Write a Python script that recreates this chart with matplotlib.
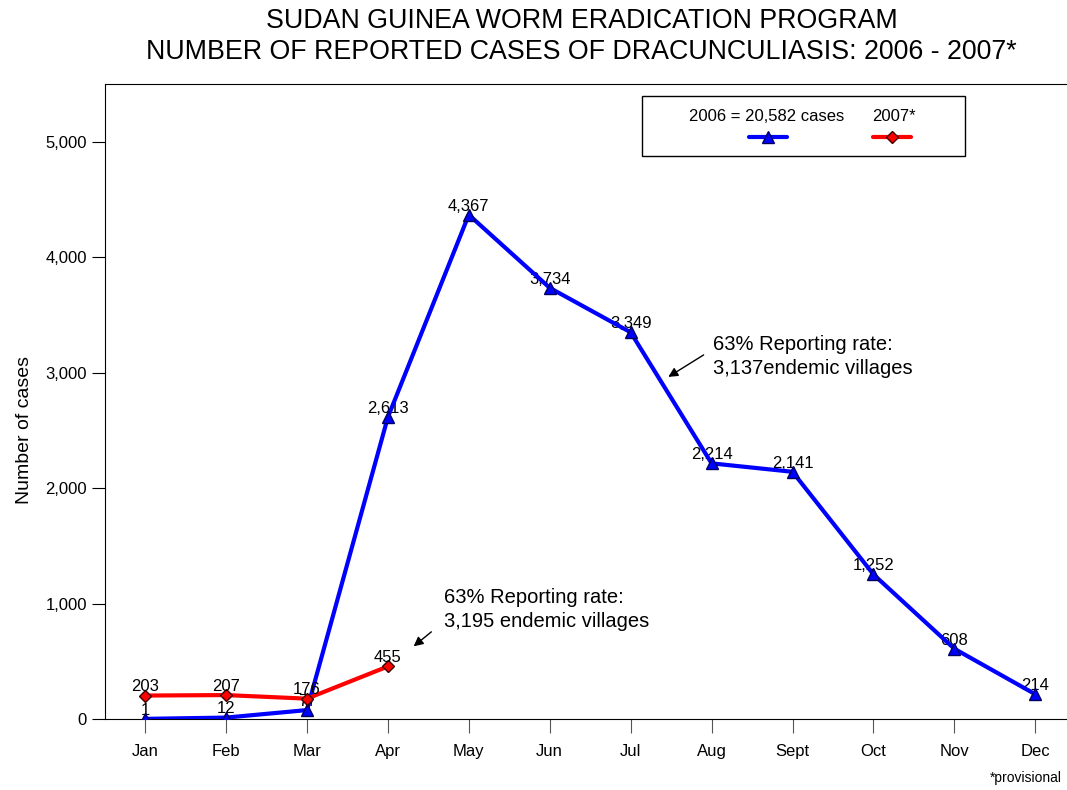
import numpy as np
import matplotlib.pyplot as plt
from matplotlib.ticker import FuncFormatter
from matplotlib.patches import Rectangle

plt.rcParams['font.family'] = ['Liberation Sans', 'DejaVu Sans']

# Datos
meses = ['Jan', 'Feb', 'Mar', 'Apr', 'May', 'Jun', 'Jul', 'Aug', 'Sept', 'Oct', 'Nov', 'Dec']
casos_2006 = [1, 12, 77, 2613, 4367, 3734, 3349, 2214, 2141, 1252, 608, 214]
casos_2007 = [203, 207, 176, 455]
etiqueta_2006 = '2006 = 20,582 cases'
etiqueta_2007 = '2007*'

x06 = np.arange(1, len(casos_2006) + 1)
x07 = np.arange(1, len(casos_2007) + 1)

# Crear figura
fig = plt.figure(figsize=(10.67, 7.9), dpi=100)
ax = fig.add_axes((0.0984, 0.0899, 0.9030, 0.8038))

# Lineas
ax.plot(x06, casos_2006, '-', color='#0000ff', lw=3, marker='^', markersize=8,
        markerfacecolor='#0000ff', markeredgecolor='#000060', zorder=3)
ax.plot(x07, casos_2007, '-', color='#ff0000', lw=3, marker='D', markersize=6,
        markerfacecolor='#ff0000', markeredgecolor='#400000', zorder=4)

# Etiquetas de valores
for xi, v in zip(x06, casos_2006):
    ax.annotate(f'{v:,}', (xi, v), xytext=(0, 3), textcoords='offset points',
                ha='center', va='baseline', fontsize=12, zorder=2)
for xi, v in zip(x07, casos_2007):
    ax.annotate(f'{v:,}', (xi, v), xytext=(0, 3), textcoords='offset points',
                ha='center', va='baseline', fontsize=12, zorder=5)

# Anotaciones
ax.annotate('', xy=(7.436, 2950), xytext=(7.931, 3166),
            arrowprops=dict(arrowstyle='-|>', color='black', lw=1, mutation_scale=14))
ax.text(8.017, 3140, '63% Reporting rate:\n3,137endemic villages', fontsize=14.5,
        ha='left', va='center', linespacing=1.3)
ax.annotate('', xy=(4.292, 614), xytext=(4.564, 770),
            arrowprops=dict(arrowstyle='-|>', color='black', lw=1, mutation_scale=14))
ax.text(4.688, 950, '63% Reporting rate:\n3,195 endemic villages', fontsize=14.5,
        ha='left', va='center', linespacing=1.3)

# Leyenda manual
ax.add_patch(Rectangle((0.557, 0.887), 0.336, 0.094, transform=ax.transAxes,
                       facecolor='white', edgecolor='black', lw=1, zorder=6))
ax.text(0.687, 0.948, etiqueta_2006, transform=ax.transAxes, ha='center', va='center',
        fontsize=12, zorder=7)
ax.text(0.819, 0.948, etiqueta_2007, transform=ax.transAxes, ha='center', va='center',
        fontsize=12, zorder=7)
ax.plot([0.668, 0.708], [0.917, 0.917], transform=ax.transAxes, color='#0000ff', lw=3,
        solid_capstyle='round', zorder=7)
ax.plot([0.688], [0.917], transform=ax.transAxes, marker='^', markersize=8,
        color='#0000ff', markeredgecolor='#000060', zorder=8)
ax.plot([0.797, 0.837], [0.917, 0.917], transform=ax.transAxes, color='#ff0000', lw=3,
        solid_capstyle='round', zorder=7)
ax.plot([0.817], [0.917], transform=ax.transAxes, marker='D', markersize=6,
        color='#ff0000', markeredgecolor='#400000', zorder=8)

# Ejes
ax.set_xlim(0.505, 12.41)
ax.set_ylim(0, 5500)
ax.set_xticks(x06)
ax.set_xticklabels(meses, fontsize=12)
ax.set_yticks(np.arange(0, 5001, 1000))
ax.yaxis.set_major_formatter(FuncFormatter(lambda v, p: f'{int(v):,}'))
ax.tick_params(axis='y', labelsize=12, length=9.5, direction='out', pad=3.5)
ax.tick_params(axis='x', length=10, direction='out', color='#555555', pad=8)
ax.spines['right'].set_visible(False)
ax.set_ylabel('Number of cases', fontsize=14)
ax.yaxis.set_label_coords(-0.075, 0.455)

# Titulo
fig.text(0.545, 0.974, 'SUDAN GUINEA WORM ERADICATION PROGRAM', ha='center', va='center',
         fontsize=19.3)
fig.text(0.545, 0.934, 'NUMBER OF REPORTED CASES OF DRACUNCULIASIS: 2006 - 2007*',
         ha='center', va='center', fontsize=19.3)
fig.text(0.995, 0.015, '*provisional', ha='right', va='center', fontsize=10)

fig.savefig('out.png', dpi=100)
